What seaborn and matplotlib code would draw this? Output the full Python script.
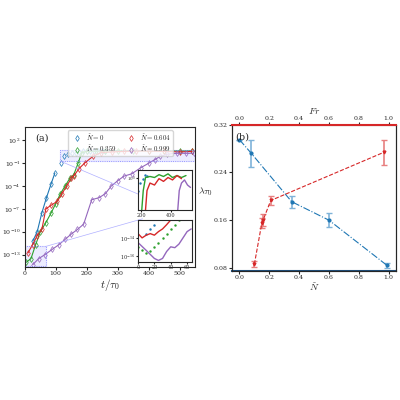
import matplotlib
matplotlib.use("Agg")
import matplotlib.pyplot as plt
import seaborn as sns

sns.set_style("ticks")
plt.rcParams['font.family'] = ['DejaVu Serif']
plt.rcParams['mathtext.fontset'] = 'cm'
plt.rcParams['font.size'] = 5

BLUE = '#1f77b4'
GREEN = '#2ca02c'
RED = '#d62728'
PURPLE = '#9467bd'

# panel (a): growth curves
t_blue_fit = [26, 40, 55, 70, 85, 97]
phi_blue_fit = [6e-12, 1e-10, 3e-8, 3e-6, 2e-4, 5e-3]
t_blue = [116, 128, 140, 152, 164, 176, 188, 200, 212, 224, 236, 248, 258]
phi_blue = [1e-1, 8e-1, 1.5, 2.0, 2.5, 3.0, 3.5, 3.5, 4.0, 3.5, 4.0, 3.8, 4.0]
t_green = [5, 20, 35, 50, 68, 85, 100, 115, 130, 145, 158, 172, 184, 200, 230, 260, 300, 350, 400, 450, 500, 540]
phi_green = [1e-14, 3e-14, 2e-12, 1e-10, 1.6e-9, 3e-8, 5e-7, 1e-5, 1e-4, 1e-3, 3e-3, 1e-1, 2.5, 3.5, 4.0, 4.0, 4.5, 4.5, 4.0, 4.5, 4.0, 4.2]
t_red = [10, 25, 40, 55, 68, 85, 105, 120, 135, 150, 158, 175, 195, 220, 247, 280, 320, 360, 400, 450, 500, 540]
phi_red = [1.6e-13, 2e-12, 3e-11, 2e-10, 1e-7, 3e-7, 1e-6, 1e-5, 1e-4, 1e-3, 2e-3, 2e-2, 1.2e-1, 8e-1, 2.5, 3.0, 3.5, 4.0, 4.0, 3.5, 3.0, 3.5]
t_purple = [26, 45, 65, 89, 110, 130, 150, 170, 190, 216, 240, 260, 279, 300, 320, 345, 374, 400, 420, 437, 460, 490, 520, 545]
phi_purple = [5e-15, 3e-14, 1e-13, 5e-13, 2e-12, 1e-11, 5e-11, 2e-10, 1e-9, 1.6e-6, 3e-6, 1e-5, 1e-4, 5e-4, 2e-3, 4e-3, 2.5e-2, 1e-1, 3e-1, 8e-1, 1.5, 2.0, 2.0, 2.0]

# upper inset
ti_blue = [180, 195, 210, 225, 240]
pi_blue = [0.3, 0.6, 0.9, 1.3, 1.1]
ti_green = [200, 215, 230, 260, 290, 320, 350, 380, 410, 440, 470, 500]
pi_green = [0.02, 0.3, 1.0, 1.1, 1.0, 1.3, 1.1, 1.4, 1.0, 1.2, 1.0, 1.2]
ti_red = [225, 240, 260, 290, 320, 350, 380, 410, 440, 470]
pi_red = [0.02, 0.3, 0.6, 0.5, 0.9, 0.7, 1.0, 0.8, 1.2, 0.9]
ti_purple = [440, 455, 470, 490, 510, 530]
pi_purple = [0.02, 0.3, 0.6, 0.8, 0.5, 0.4]

# lower inset
tl_blue = [10, 15, 20]
pl_blue = [3e-14, 1e-13, 3e-13]
tl_green = [0, 5, 10, 15, 20, 25, 30, 35, 40, 45, 50]
pl_green = [1e-15, 4e-16, 2e-16, 3e-16, 1e-15, 3e-15, 1e-14, 3e-14, 1e-13, 3e-13, 1e-12]
tl_red = [0, 5, 10, 15, 20, 25, 30, 35, 40]
pl_red = [3e-14, 1e-14, 2e-14, 3e-14, 2e-14, 5e-14, 1e-13, 3e-13, 1e-12]
tl_purple = [0, 10, 20, 25, 30, 35, 40, 45, 50, 55, 60, 65]
pl_purple = [3e-15, 4e-16, 5e-17, 3e-17, 5e-17, 3e-16, 1e-15, 8e-16, 2e-15, 1e-14, 5e-14, 1e-13]

# panel (b)
n_blue = [0.0, 0.08, 0.35, 0.6, 0.99]
lam_blue = [0.295, 0.272, 0.191, 0.160, 0.084]
err_blue = [0.0, 0.022, 0.010, 0.012, 0.004]
fr_red = [0.1, 0.15, 0.16, 0.21, 0.97]
lam_red = [0.086, 0.155, 0.161, 0.193, 0.274]
err_red = [0.005, 0.008, 0.01, 0.007, 0.021]

fig = plt.figure(figsize=(4, 4), dpi=100)

ax = fig.add_axes([0.062, 0.333, 0.426, 0.35])
mk = dict(mfc='none', ms=3, mew=0.5, ls='none')
ax.plot(t_blue_fit, phi_blue_fit, '-', color=BLUE, lw=0.8)
ax.plot(t_blue_fit, phi_blue_fit, 'd', color=BLUE, **mk)
ax.plot(t_blue, phi_blue, 'd', color=BLUE, label=r'$\tilde{N}=0$', **mk)
ax.plot(t_green, phi_green, '-', color=GREEN, lw=0.8)
ax.plot(t_green, phi_green, 'd', color=GREEN, label=r'$\tilde{N}=0.359$', **mk)
ax.plot(t_red, phi_red, '-', color=RED, lw=0.8)
ax.plot(t_red, phi_red, 'd', color=RED, label=r'$\tilde{N}=0.604$', **mk)
ax.plot(t_purple, phi_purple, '-', color=PURPLE, lw=0.8)
ax.plot(t_purple, phi_purple, 'd', color=PURPLE, label=r'$\tilde{N}=0.999$', **mk)
ax.set_yscale('log')
ax.set_xlim(0, 550)
ax.set_ylim(2.5e-15, 6e3)
ax.set_yticks([1e-13, 1e-10, 1e-7, 1e-4, 1e-1, 1e2])
ax.minorticks_off()
ax.set_xlabel(r'$t/\tau_0$', fontsize=8, labelpad=1)
ax.set_ylabel(r'$\Phi^a$', fontsize=7, labelpad=0)
ax.text(0.06, 0.9, '(a)', transform=ax.transAxes, fontsize=7)
ax.legend(ncol=2, loc='upper center', bbox_to_anchor=(0.56, 1.0), fontsize=5, frameon=True,
          handletextpad=0.3, columnspacing=1.0, borderpad=0.3, labelspacing=0.2)
# zoom boxes
ax.plot([113, 550, 550, 113, 113], [0.2, 0.2, 6, 6, 0.2], ':', color='#8080ff', lw=0.6)
ax.plot([0, 68, 68, 0, 0], [3e-15, 3e-15, 1.2e-12, 1.2e-12, 3e-15], ':', color='#8080ff', lw=0.6)
ax.plot([113, 380], [0.2, 5e-6], color='#b0b0ff', lw=0.5)
ax.plot([68, 380], [1.2e-12, 5e-9], color='#b0b0ff', lw=0.5)
ax.fill_between([0, 68], 3e-15, 1.2e-12, color='#d0d0ff', alpha=0.4)
ax.fill_between([113, 550], 0.2, 6, color='#d0d0ff', alpha=0.4)
ax.tick_params(labelsize=4.5, length=2, pad=1)

ins1 = fig.add_axes([0.345, 0.475, 0.135, 0.1])
ins1.plot(ti_blue, pi_blue, '.', color=BLUE, ms=1.5)
ins1.plot(ti_green, pi_green, '-', color=GREEN, lw=1)
ins1.plot(ti_red, pi_red, '-', color=RED, lw=1)
ins1.plot(ti_purple, pi_purple, '-', color=PURPLE, lw=1)
ins1.set_yscale('log')
ins1.set_xlim(180, 540)
ins1.set_ylim(0.05, 2)
ins1.set_xticks([200, 400])
ins1.set_yticks([1])
ins1.set_yticklabels([r'$10^0$'])
ins1.minorticks_off()
ins1.tick_params(labelsize=3.5, length=1.5, pad=0.5)

ins2 = fig.add_axes([0.345, 0.345, 0.135, 0.105])
ins2.plot(tl_blue, pl_blue, '.', color=BLUE, ms=1.5)
ins2.plot(tl_green, pl_green, '.', color=GREEN, ms=1.5)
ins2.plot(tl_red, pl_red, '-', color=RED, lw=1)
ins2.plot(tl_purple, pl_purple, '-', color=PURPLE, lw=1)
ins2.set_yscale('log')
ins2.set_xlim(0, 66)
ins2.set_ylim(2e-17, 1e-12)
ins2.set_xticks([0, 20, 40, 60])
ins2.set_yticks([1e-16, 1e-14])
ins2.minorticks_off()
ins2.tick_params(labelsize=3.5, length=1.5, pad=0.5)

bx = fig.add_axes([0.58, 0.323, 0.41, 0.365])
bx.errorbar(n_blue, lam_blue, yerr=err_blue, fmt='o-.', color=BLUE, ms=2, lw=0.8,
            elinewidth=1.2, capsize=2, ecolor='#7fb3d9')
bx.set_xlim(-0.05, 1.05)
bx.set_ylim(0.075, 0.32)
bx.set_yticks([0.08, 0.16, 0.24, 0.32])
bx.set_xticks([0.0, 0.2, 0.4, 0.6, 0.8, 1.0])
bx.set_xlabel(r'$\tilde{N}$', fontsize=7, labelpad=1)
bx.set_ylabel(r'$\lambda\tau_0$', fontsize=7, rotation=0, labelpad=6)
bx.text(0.02, 0.9, '(b)', transform=bx.transAxes, fontsize=7)
bx.spines['bottom'].set_color('#1f4e79')
bx.spines['bottom'].set_linewidth(1.5)
bx.tick_params(labelsize=4.5, length=2, pad=1)

tx = bx.twiny()
tx.errorbar(fr_red, lam_red, yerr=err_red, fmt='v--', color=RED, ms=2, lw=0.8,
            elinewidth=1.2, capsize=2, ecolor='#e88080')
tx.set_xlim(-0.05, 1.05)
tx.set_xticks([0.0, 0.2, 0.4, 0.6, 0.8, 1.0])
tx.set_xlabel(r'$Fr$', fontsize=7, labelpad=1)
tx.spines['top'].set_color(RED)
tx.spines['top'].set_linewidth(1.5)
tx.tick_params(labelsize=4.5, length=2, pad=1)

fig.savefig('out.png', dpi=100)
